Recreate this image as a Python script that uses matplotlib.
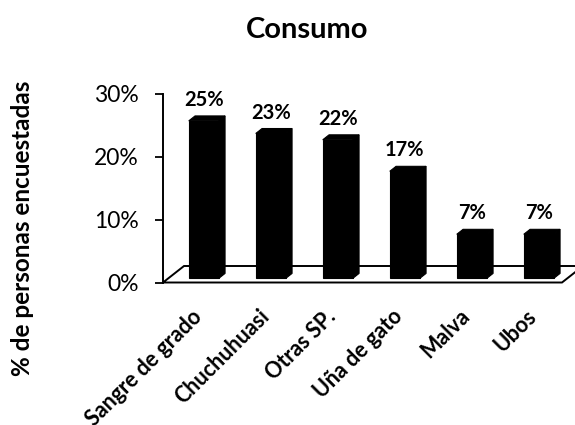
import matplotlib
matplotlib.use("Agg")
import matplotlib.pyplot as plt
from matplotlib.patches import Polygon

plt.rcParams["font.family"] = ["Lato", "DejaVu Sans"]

# Data
categories = ["Sangre de grado", "Chuchuhuasi", "Otras SP.", "Uña de gato", "Malva", "Ubos"]
values = [25, 23, 22, 17, 7, 7]
y_ticks = [0, 10, 20, 30]
y_tick_labels = ["0%", "10%", "20%", "30%"]
title = "Consumo"
y_label = "% de personas encuestadas"

W, H = 575, 425
fig = plt.figure(figsize=(W / 100, H / 100), dpi=100)
fig.patch.set_facecolor("white")

# Plot area in pixels (left, bottom-of-front-floor, width, height)
ax_left, ax_bottom_px, ax_w, ax_h = 163, 282.5, 399, 189
ax = fig.add_axes([ax_left / W, (H - ax_bottom_px) / H, ax_w / W, ax_h / H])
ax.set_xlim(-0.53, 5.425)
ax.set_ylim(0, 30)

# pixel -> data conversions
px_x = (5.425 + 0.53) / ax_w
px_y = 30 / ax_h

# Floor depth (front edge to back edge), in data units
floor_dx = 21 * px_x
floor_dy = 16.5 * px_y
x0, x1 = ax.get_xlim()
floor = Polygon([(x0, 0), (x1, 0), (x1 + floor_dx, floor_dy), (x0 + floor_dx, floor_dy)],
                closed=True, facecolor="white", edgecolor="black", lw=1.4,
                clip_on=False, zorder=1)
ax.add_patch(floor)

# 3D-looking bars standing on the floor
f_front, f_back = 0.25, 0.55
bar_w = 30 * px_x
for i, v in enumerate(values):
    cx = i + f_front * floor_dx
    b = f_front * floor_dy
    ddx = (f_back - f_front) * floor_dx
    ddy = (f_back - f_front) * floor_dy
    xl, xr = cx - bar_w / 2, cx + bar_w / 2
    top = v + b
    faces = [
        [(xl, b), (xr, b), (xr, top), (xl, top)],
        [(xr, b), (xr + ddx, b + ddy), (xr + ddx, top + ddy), (xr, top)],
        [(xl, top), (xr, top), (xr + ddx, top + ddy), (xl + ddx, top + ddy)],
    ]
    for f in faces:
        ax.add_patch(Polygon(f, closed=True, facecolor="black", edgecolor="black",
                             lw=0.8, clip_on=False, zorder=3))
    ax.annotate(f"{v}%", xy=(cx, top), xytext=(0, 15), textcoords="offset points",
                ha="center", va="center", fontsize=14.5, fontweight="bold", zorder=4,
                annotation_clip=False)

# Axes styling
for s in ("top", "right", "bottom"):
    ax.spines[s].set_visible(False)
ax.spines["left"].set_linewidth(1.4)
ax.set_yticks(y_ticks)
ax.set_yticklabels(y_tick_labels, fontsize=16.5)
ax.tick_params(axis="y", direction="out", length=6, width=1.3, pad=11.5)

ax.set_xticks(range(len(categories)))
ax.set_xticklabels(categories, fontsize=15.5, fontweight="bold")
ax.tick_params(axis="x", length=0, pad=22)
for lbl in ax.get_xticklabels():
    lbl.set_rotation(45)
    lbl.set_ha("right")
    lbl.set_va("center")
    lbl.set_rotation_mode("anchor")

ax.patch.set_visible(False)

fig.text(307 / W, 1 - 30 / H, title, ha="center", va="center",
         fontsize=21, fontweight="bold")
fig.text(23 / W, 1 - 228 / H, y_label, ha="center", va="center",
         rotation=90, fontsize=17.5, fontweight="bold")

fig.savefig("out.png", dpi=100, facecolor="white")
